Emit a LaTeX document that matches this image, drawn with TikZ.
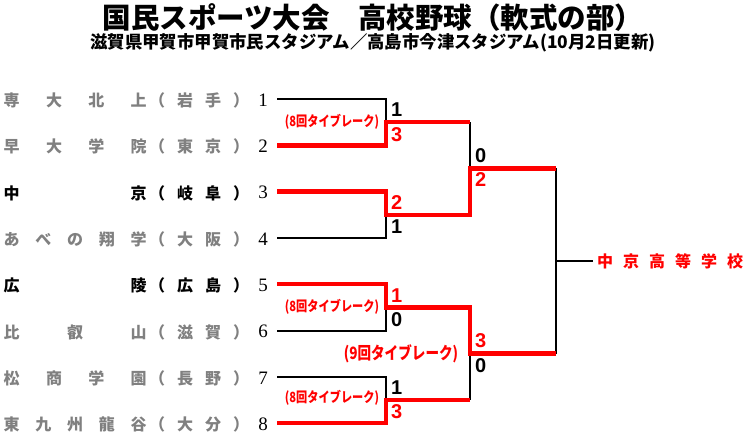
\documentclass[tikz,border=0pt]{standalone}
\usepackage{fontspec}
\usepackage{graphicx}
\newfontfamily\jp{Noto Sans CJK JP}
\newfontfamily\sansb{Liberation Sans}
\newfontfamily\serifn{Liberation Serif}
\definecolor{tgray}{RGB}{128,128,128}
\definecolor{tred}{RGB}{255,0,0}
\begin{document}
\begin{tikzpicture}[x=1pt,y=-1pt,
  blk/.style={black,line width=2pt},
  redl/.style={tred,line width=4.5pt},
  winl/.style={black,line width=1.5pt},
  teamname/.style={font=\jp\bfseries\fontsize{16}{16}\selectfont,inner sep=0pt,anchor=west},
  lose/.style={text=tgray},
  win/.style={text=black},
  seed/.style={font=\serifn\fontsize{19}{19}\selectfont,inner sep=0pt},
  score/.style={font=\sansb\bfseries\fontsize{20}{20}\selectfont,inner sep=0pt,anchor=west},
  tb/.style={font=\jp\bfseries\fontsize{14}{14}\selectfont,text=tred,inner sep=0pt},
  tbbig/.style={font=\jp\bfseries\fontsize{17}{17}\selectfont,text=tred,inner sep=0pt},
  titlef/.style={font=\jp\bfseries\fontsize{28.5}{28.5}\selectfont,inner sep=0pt},
  subf/.style={font=\jp\bfseries\fontsize{17.4}{17.4}\selectfont,inner sep=0pt}
]
\useasboundingbox (0,0) rectangle (748,445);

% titles
\node[titlef] (title) at (373,17) {国民スポーツ大会　高校野球（軟式の部）};
\node[subf] (sub) at (373,43) {滋賀県甲賀市甲賀市民スタジアム／高島市今津スタジアム(10月2日更新)};

% team names
\node[teamname,lose] (t1) at (3.5,100.5) {\makebox[143pt][s]{専\hfill 大\hfill 北\hfill 上}};
\node[teamname,lose] (t2) at (3.5,146.8) {\makebox[143pt][s]{早\hfill 大\hfill 学\hfill 院}};
\node[teamname,win]  (t3) at (3.5,193.1) {\makebox[143pt][s]{中\hfill 京}};
\node[teamname,lose] (t4) at (3.5,239.4) {\makebox[143pt][s]{あ\hfill べ\hfill の\hfill 翔\hfill 学}};
\node[teamname,win]  (t5) at (3.5,285.7) {\makebox[143pt][s]{広\hfill 陵}};
\node[teamname,lose] (t6) at (3.5,332.0) {\makebox[143pt][s]{比\hfill 叡\hfill 山}};
\node[teamname,lose] (t7) at (3.5,378.3) {\makebox[143pt][s]{松\hfill 商\hfill 学\hfill 園}};
\node[teamname,lose] (t8) at (3.5,424.6) {\makebox[143pt][s]{東\hfill 九\hfill 州\hfill 龍\hfill 谷}};

\node[teamname,lose] (p1) at (149,100.5) {\makebox[100pt][s]{（\hfill 岩\hfill 手\hfill ）}};
\node[teamname,lose] (p2) at (149,146.8) {\makebox[100pt][s]{（\hfill 東\hfill 京\hfill ）}};
\node[teamname,win]  (p3) at (149,193.1) {\makebox[100pt][s]{（\hfill 岐\hfill 阜\hfill ）}};
\node[teamname,lose] (p4) at (149,239.4) {\makebox[100pt][s]{（\hfill 大\hfill 阪\hfill ）}};
\node[teamname,win]  (p5) at (149,285.7) {\makebox[100pt][s]{（\hfill 広\hfill 島\hfill ）}};
\node[teamname,lose] (p6) at (149,332.0) {\makebox[100pt][s]{（\hfill 滋\hfill 賀\hfill ）}};
\node[teamname,lose] (p7) at (149,378.3) {\makebox[100pt][s]{（\hfill 長\hfill 野\hfill ）}};
\node[teamname,lose] (p8) at (149,424.6) {\makebox[100pt][s]{（\hfill 大\hfill 分\hfill ）}};

% seeds
\node[seed] (n1) at (263,100) {1};
\node[seed] (n2) at (263,146.3) {2};
\node[seed] (n3) at (263,192.6) {3};
\node[seed] (n4) at (263,238.9) {4};
\node[seed] (n5) at (263,285.2) {5};
\node[seed] (n6) at (263,331.5) {6};
\node[seed] (n7) at (263,377.8) {7};
\node[seed] (n8) at (263,424.1) {8};

% bracket coordinates
\coordinate (s1) at (277,99);    \coordinate (e1) at (386,99);
\coordinate (s2) at (277,145.3); \coordinate (e2) at (386,145.3);
\coordinate (s3) at (277,191.6); \coordinate (e3) at (386,191.6);
\coordinate (s4) at (277,237.9); \coordinate (e4) at (386,237.9);
\coordinate (s5) at (277,284.2); \coordinate (e5) at (386,284.2);
\coordinate (s6) at (277,330.5); \coordinate (e6) at (386,330.5);
\coordinate (s7) at (277,376.8); \coordinate (e7) at (386,376.8);
\coordinate (s8) at (277,423.1); \coordinate (e8) at (386,423.1);
\coordinate (q12) at (386,122.15); \coordinate (u12) at (470,122.15);
\coordinate (q34) at (386,214.75); \coordinate (u34) at (470,214.75);
\coordinate (q56) at (386,307.35); \coordinate (u56) at (470,307.35);
\coordinate (q78) at (386,399.95); \coordinate (u78) at (470,399.95);
\coordinate (vA) at (470,168.45); \coordinate (wA) at (556,168.45);
\coordinate (vB) at (470,353.65); \coordinate (wB) at (556,353.65);
\coordinate (wF) at (556,261.05); \coordinate (fin) at (593,261.05);

% black lines
\draw[blk] (s1) -- (e1) -- (q12);
\draw[blk] (s4) -- (e4) -- (q34);
\draw[blk] (s6) -- (e6) -- (q56);
\draw[blk] (s7) -- (e7) -- (q78);
\draw[blk] (u12) -- (vA);
\draw[blk] (u78) -- (vB);
\draw[blk] (wA) -- (wB);
\draw[winl] (wF) -- (fin);

% red lines
\draw[redl] (s2) -- (e2) -- (q12) -- (u12);
\draw[redl] (s3) -- (e3) -- (q34) -- (u34) -- (vA) -- (wA);
\draw[redl] (s5) -- (e5) -- (q56) -- (u56) -- (vB) -- (wB);
\draw[redl] (s8) -- (e8) -- (q78) -- (u78);

% scores
\node[score,text=black] (c1) at (391,109.6) {1};
\node[score,text=tred]  (c2) at (391,134.2) {3};
\node[score,text=tred]  (c3) at (391,202.7) {2};
\node[score,text=black] (c4) at (391,226.8) {1};
\node[score,text=tred]  (c5) at (391,295.3) {1};
\node[score,text=black] (c6) at (391,319.4) {0};
\node[score,text=black] (c7) at (391,387.9) {1};
\node[score,text=tred]  (c8) at (391,412) {3};
\node[score,text=black] (cA) at (475,156) {0};
\node[score,text=tred]  (cB) at (475,179.5) {2};
\node[score,text=tred]  (cC) at (475,340.6) {3};
\node[score,text=black] (cD) at (475,365.6) {0};

% tie-break labels
\node[tb] (tb1) at (332,122) {\scalebox{0.8}[1]{(8回タイブレーク)}};
\node[tb] (tb2) at (332,307) {\scalebox{0.8}[1]{(8回タイブレーク)}};
\node[tb] (tb3) at (332,397.5) {\scalebox{0.8}[1]{(8回タイブレーク)}};
\node[tbbig] (tb4) at (401,354) {\scalebox{0.8}[1]{(9回タイブレーク)}};

% winner
\node[teamname,text=tred] (champ) at (597,261) {\makebox[146pt][s]{中\hfill 京\hfill 高\hfill 等\hfill 学\hfill 校}};
\end{tikzpicture}
\end{document}
